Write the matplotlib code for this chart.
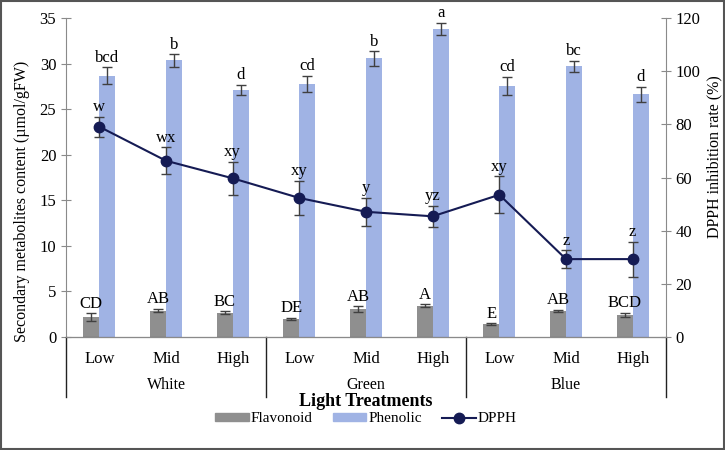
import matplotlib
matplotlib.use('Agg')
import matplotlib.pyplot as plt
from matplotlib.patches import Rectangle, Patch
from matplotlib.lines import Line2D
import numpy as np

plt.rcParams['font.family'] = ['Liberation Serif', 'DejaVu Serif']
plt.rcParams['font.size'] = 11.5

# --- data ---
groups = ['White', 'Green', 'Blue']
levels = ['Low', 'Mid', 'High']

flavonoid     = [2.16, 2.89, 2.67, 1.97, 3.04, 3.43, 1.39, 2.85, 2.41]
flavonoid_err = [0.45, 0.20, 0.15, 0.15, 0.35, 0.15, 0.10, 0.15, 0.25]
flavonoid_lbl = ['CD', 'AB', 'BC', 'DE', 'AB', 'A', 'E', 'AB', 'BCD']

phenolic      = [28.67, 30.36, 27.10, 27.76, 30.58, 33.83, 27.54, 29.73, 26.63]
phenolic_err  = [0.95, 0.70, 0.60, 0.90, 0.80, 0.65, 1.00, 0.60, 0.85]
phenolic_lbl  = ['bcd', 'b', 'd', 'cd', 'b', 'a', 'cd', 'bc', 'd']

dpph          = [79.1, 66.3, 59.7, 52.3, 47.1, 45.4, 53.5, 29.3, 29.3]
dpph_err      = [3.8, 5.0, 6.3, 6.5, 5.3, 4.0, 7.0, 3.4, 6.6]
dpph_lbl      = ['w', 'wx', 'xy', 'xy', 'y', 'yz', 'xy', 'z', 'z']

# --- colours ---
C_FLAV = '#8f8f8f'
C_PHEN = '#a0b3e4'
C_DPPH = '#151b54'
C_ERR = '#404040'
C_AX = '#8a8a8a'

fig = plt.figure(figsize=(7.25, 4.5), dpi=100)
ax = fig.add_axes([66/725, 1 - 337/450, 600/725, 319/450])
ax2 = ax.twinx()

x = np.arange(len(flavonoid))
w = 0.24
ekw = dict(ecolor=C_ERR, elinewidth=1, capsize=3.5, capthick=1)

ax.bar(x - w/2, flavonoid, w, color=C_FLAV, yerr=flavonoid_err, error_kw=ekw, zorder=2)
ax.bar(x + w/2, phenolic, w, color=C_PHEN, yerr=phenolic_err, error_kw=ekw, zorder=2)

for i in range(len(x)):
    ax.annotate(flavonoid_lbl[i], (x[i] - w/2, flavonoid[i] + flavonoid_err[i]),
                xytext=(0, 1), textcoords='offset points', ha='center', va='bottom',
                fontsize=12)
    ax.annotate(phenolic_lbl[i], (x[i] + w/2, phenolic[i] + phenolic_err[i]),
                xytext=(0, 1), textcoords='offset points', ha='center', va='bottom',
                fontsize=12)

ax2.errorbar(x, dpph, yerr=dpph_err, color=C_DPPH, lw=1.5, marker='o', ms=7.5,
             ecolor=C_ERR, elinewidth=1, capsize=3.5, capthick=1, zorder=3)
for i in range(len(x)):
    ax2.annotate(dpph_lbl[i], (x[i], dpph[i] + dpph_err[i]),
                 xytext=(0, 1), textcoords='offset points', ha='center', va='bottom',
                 fontsize=12)

ax.set_xlim(-0.5, len(x) - 0.5)
ax.set_ylim(0, 35)
ax.set_yticks(range(0, 36, 5))
ax2.set_ylim(0, 120)
ax2.set_yticks(range(0, 121, 20))

for a in (ax, ax2):
    a.spines['top'].set_visible(False)
    for s in ('left', 'right', 'bottom'):
        a.spines[s].set_color(C_AX)
    a.tick_params(axis='y', direction='inout', length=7, color=C_AX, labelsize=12)
ax.spines['right'].set_visible(False)
ax2.spines['left'].set_visible(False)
ax.spines['bottom'].set_color('#333333')

ax.set_xticks(x)
ax.set_xticklabels(levels * len(groups), fontsize=12)
ax.tick_params(axis='x', length=0, pad=10)

# axis titles (placed where the reference has them, off-centre)
fig.text(22/725, 1 - 201/450, 'Secondary metabolites content (µmol/gFW)',
         rotation=90, ha='center', va='center', fontsize=11.5)
fig.text(714/725, 1 - 157/450, 'DPPH inhibition rate (%)',
         rotation=90, ha='center', va='center', fontsize=11.5)

# group labels and separators below the axis
for g, name in enumerate(groups):
    ax.text(g * 3 + 1, -0.152, name, transform=ax.get_xaxis_transform(),
            ha='center', va='center', fontsize=11.5)
for b in range(len(groups) + 1):
    xb = b * 3 - 0.5
    ax.add_line(Line2D([xb, xb], [0, -0.188], transform=ax.get_xaxis_transform(),
                       color='#222222', lw=1, clip_on=False))

fig.text(366/725, 1 - 401/450, 'Light Treatments', ha='center', va='center',
         fontsize=13, fontweight='bold')

handles = [Patch(color=C_FLAV), Patch(color=C_PHEN),
           Line2D([], [], color=C_DPPH, lw=1.5, marker='o', ms=7.5)]
fig.legend(handles, ['Flavonoid', 'Phenolic', 'DPPH'], loc='center',
           bbox_to_anchor=(366/725, 1 - 419/450), ncol=3, frameon=False, fontsize=11,
           handlelength=2.2, handleheight=0.5, columnspacing=1.3, handletextpad=0.15)

fig.patches.append(Rectangle((0.002, 0.003), 0.996, 0.994, transform=fig.transFigure,
                             fill=False, edgecolor='#555555', lw=1.5))

fig.savefig('out.png', dpi=100)
